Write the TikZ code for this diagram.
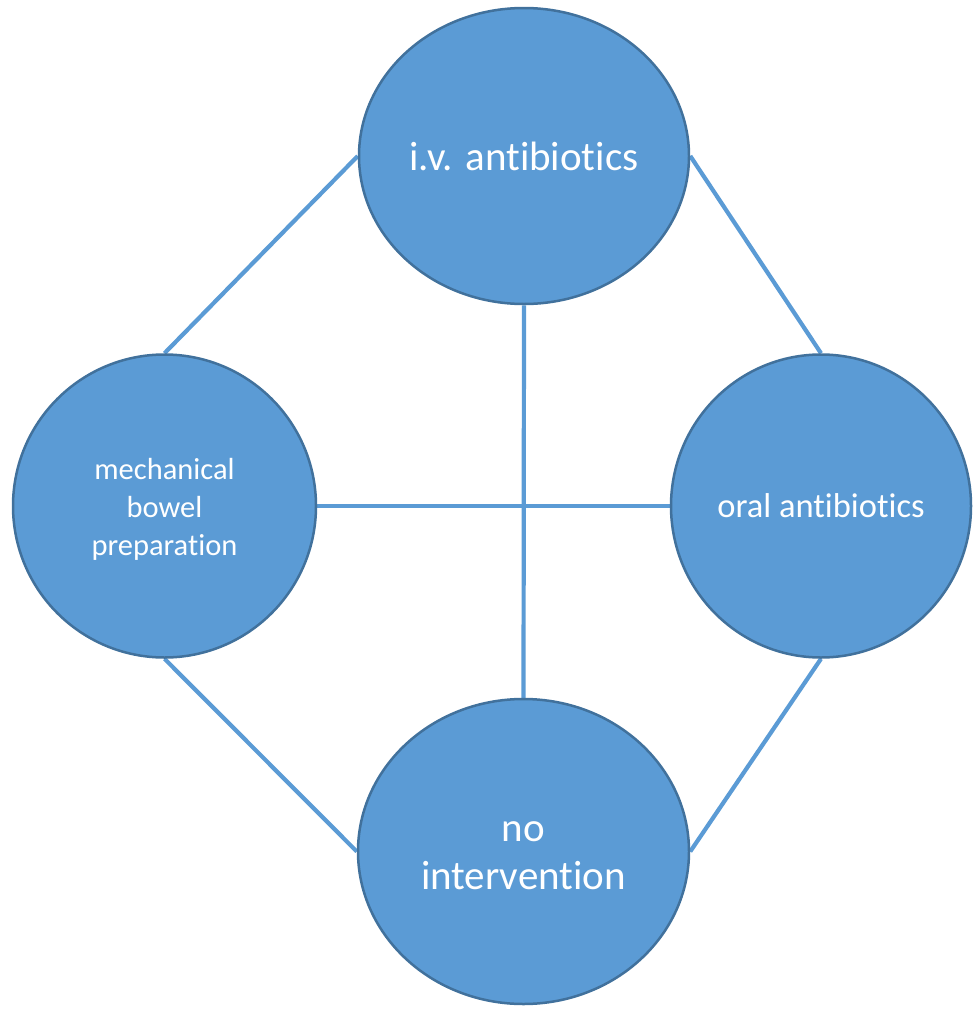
\documentclass[tikz,border=0pt]{standalone}
\usepackage{fontspec}
\setmainfont[Ligatures=NoCommon]{Carlito}
\usetikzlibrary{shapes.geometric,backgrounds}
\definecolor{fillblue}{HTML}{5B9BD5}
\definecolor{edgeblue}{HTML}{41719C}
\tikzset{
  bubble/.style={ellipse, draw=edgeblue, line width=2.5pt, fill=fillblue,
    text=white, inner sep=0pt, align=center},
  link/.style={draw=fillblue, line width=4.2pt}
}
\begin{document}
\begin{tikzpicture}[x=1pt,y=-1pt]
\useasboundingbox (0,0) rectangle (972,1009);
\node[bubble, minimum width=330pt, minimum height=296pt,
  font=\fontsize{41}{50}\selectfont] (iv) at (524,156) {i.v. antibiotics};
\node[bubble, minimum width=303pt, minimum height=303pt,
  font=\fontsize{30.5}{38}\selectfont] (mbp) at (164.5,506)
  {\raisebox{-4pt}[\height][\depth]{\begin{tabular}{@{}c@{}}mechanical\\bowel\\preparation\end{tabular}}};
\node[bubble, minimum width=300pt, minimum height=303pt,
  font=\fontsize{34.5}{42}\selectfont] (oral) at (821,506) {oral antibiotics};
\node[bubble, minimum width=331pt, minimum height=305pt,
  font=\fontsize{41}{48}\selectfont] (noint) at (523.5,851.5)
  {\raisebox{-4pt}[\height][\depth]{\begin{tabular}{@{}c@{}}no\\intervention\end{tabular}}};
\begin{pgfonlayer}{background}
\draw[link] (iv.west) -- (mbp.north);
\draw[link] (iv.east) -- (oral.north);
\draw[link] (mbp.south) -- (noint.west);
\draw[link] (oral.south) -- (noint.east);
\draw[link] (iv.south) -- (noint.north);
\draw[link] (mbp.east) -- (oral.west);
\end{pgfonlayer}
\end{tikzpicture}
\end{document}
